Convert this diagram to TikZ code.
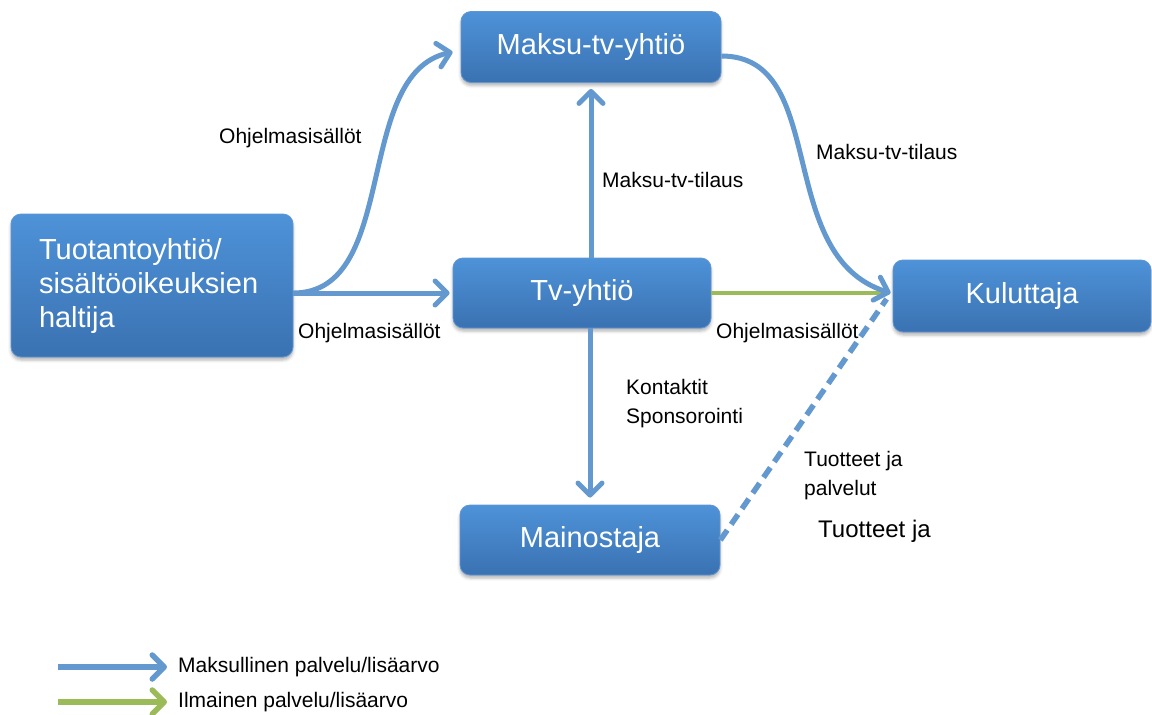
\documentclass[tikz,border=0pt]{standalone}
\usepackage{fontspec}
\setmainfont{Liberation Sans}
\usetikzlibrary{arrows.meta,shadows.blur}
\definecolor{boxtop}{RGB}{78,146,216}
\definecolor{boxbot}{RGB}{58,114,178}
\definecolor{boxline}{RGB}{96,150,210}
\definecolor{paidblue}{RGB}{99,153,207}
\definecolor{freegreen}{RGB}{155,187,89}

\begin{document}
\begin{tikzpicture}[
x=1pt,y=-1pt,
box/.style={rectangle,rounded corners=10pt,draw=boxline,line width=0.8pt,top color=boxtop,bottom color=boxbot,text=white,font=\fontsize{29}{34}\selectfont,minimum width=260pt,minimum height=71pt,inner sep=0pt,blur shadow={shadow xshift=0pt,shadow yshift=-3pt,shadow blur radius=3pt,shadow opacity=30}},
lbl/.style={anchor=west,inner sep=0pt,align=left,font=\fontsize{21}{29}\selectfont},
arr/.style={draw=paidblue,line width=5pt,-{Straight Barb[length=12pt,width=24pt,round]}},
free/.style={draw=freegreen,line width=4pt}
]
\useasboundingbox (0,0) rectangle (1152,715);

\node[box] (maksu) at (591,47) {Maksu-tv-yhtiö};
\node[box,minimum width=282pt,minimum height=143pt,text width=226pt,align=left,inner xsep=28pt] (tuot) at (152,285.5) {Tuotantoyhtiö/\\sisältöoikeuksien\\haltija};
\node[box,minimum width=258pt,minimum height=70pt] (tv) at (582,293) {Tv-yhtiö};
\node[box,minimum width=258pt,minimum height=72pt] (kul) at (1022,296) {Kuluttaja};
\node[box,minimum height=70pt] (mainos) at (590,540) {Mainostaja};

\node[lbl] (ohj1) at (219,138) {Ohjelmasisällöt};
\node[lbl] (ohj2) at (298,333) {Ohjelmasisällöt};
\node[lbl] (ohj3) at (716,333) {Ohjelmasisällöt};
\node[lbl] (tilaus1) at (602,180) {Maksu-tv-tilaus};
\node[lbl] (tilaus2) at (816,152) {Maksu-tv-tilaus};
\node[lbl] (kontakt) at (626,404) {Kontaktit\\Sponsorointi};
\node[lbl] (tuotteet1) at (804,476) {Tuotteet ja\\palvelut};
\node[lbl,font=\fontsize{24}{29}\selectfont] (tuotteet2) at (818,531) {Tuotteet ja};

\draw[free] (tv.east) -- ([xshift=-8pt]tv.east -| kul.west);
\draw[draw=paidblue,line width=5.5pt,dash pattern=on 12pt off 7pt] (mainos.east) -- ([xshift=-6pt,yshift=-3pt]kul.west);
\draw[arr] (tuot.east |- tv.west) -- ([xshift=-3pt]tv.west);
\draw[arr] (tuot.east |- tv.west) .. controls +(107,0) and +(-100,22) .. ([xshift=-8pt,yshift=-5pt]maksu.west);
\draw[arr] ([yshift=-9pt]maksu.east) .. controls +(109,0) and +(-118,-37) .. ([xshift=-2pt,yshift=3pt]kul.west);
\draw[arr] (maksu.south |- tv.north) -- ([yshift=-6pt]maksu.south);
\draw[arr] (mainos.north |- tv.south) -- ([yshift=7pt]mainos.north);

% legend
\node[lbl] (leg1) at (178,667) {Maksullinen palvelu/lisäarvo};
\node[lbl] (leg2) at (178,702) {Ilmainen palvelu/lisäarvo};
\coordinate (lg1) at (58,667);
\coordinate (lg2) at (58,702);
\draw[arr,line width=5.5pt] (lg1) -- ([xshift=-11pt]leg1.west);
\draw[free,line width=5.5pt,-{Straight Barb[length=12pt,width=24pt,round]}] (lg2) -- ([xshift=-11pt]leg2.west);
\end{tikzpicture}
\end{document}
